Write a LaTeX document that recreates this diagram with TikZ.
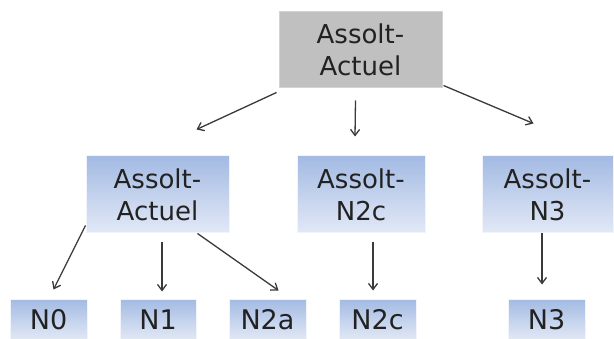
\documentclass[tikz,border=0pt]{standalone}
\usepackage{fontspec}
\setmainfont{DejaVu Sans}
\usetikzlibrary{calc,arrows.meta}
\definecolor{bluetop}{HTML}{A3BAE3}
\definecolor{bluebot}{HTML}{E2E9F6}
\definecolor{graybox}{HTML}{C0C0C0}
\definecolor{txt}{HTML}{222222}
\definecolor{arr}{HTML}{3A3A3A}
\tikzset{
  grayboxst/.style={draw=graybox!70!white, line width=1pt, fill=graybox, minimum width=163pt, minimum height=76pt, inner sep=0pt, align=center, text=txt, font=\fontsize{26}{32}\selectfont},
  blueboxst/.style={draw=white!85!bluetop, line width=1pt, top color=bluetop, bottom color=bluebot, minimum height=77pt, inner sep=0pt, align=center, text=txt, font=\fontsize{26}{32}\selectfont},
  leafst/.style={draw=white!85!bluetop, line width=1pt, top color=bluetop, bottom color=bluebot, minimum width=77pt, minimum height=41pt, inner sep=0pt, text=txt, font=\fontsize{27}{30}\selectfont},
  conn/.style={draw=arr, line width=1.3pt, -{Straight Barb[length=6pt,width=9pt]}}
}
\begin{document}
\begin{tikzpicture}[x=1pt,y=1pt]
\useasboundingbox[fill=white] (0,0) rectangle (614,338);
\node[grayboxst] (top) at (360.5,288) {Assolt-\\Actuel};
\node[blueboxst, minimum width=143pt] (L) at (157.5,143.5) {Assolt-\\Actuel};
\node[blueboxst, minimum width=128pt] (M) at (361,143.5) {Assolt-\\N2c};
\node[blueboxst, minimum width=131pt] (R) at (547.5,143.5) {Assolt-\\N3};
\node[leafst] (n0) at (48.5,18.5) {N0};
\node[leafst, minimum width=76pt] (n1) at (158,18.5) {N1};
\node[leafst] (n2a) at (267.5,18.5) {N2a};
\node[leafst] (n2c) at (377.5,18.5) {N2c};
\node[leafst] (n3) at (546.5,18.5) {N3};
\draw[conn] ($(top.south west)+(-2,-4)$) -- ($(L.north east)+(-33,26)$);
\draw[conn] ($(top.south)+(-5,-12)$) -- ($(M.north)+(-6,19)$);
\draw[conn] ($(top.south east)+(1,3)$) -- ($(R.north)+(-14,32)$);
\draw[conn] ($(L.south west)+(0,8)$) -- ($(n0.north)+(5,9)$);
\draw[conn] ($(L.south)+(4.5,-9)$) -- ($(n1.north)+(4,7)$);
\draw[conn] ($(L.south east)+(-32,0)$) -- ($(n2a.north)+(11,8)$);
\draw[conn] ($(M.south)+(12,-9)$) -- ($(n2c.north)+(-4.5,8)$);
\draw[conn] ($(R.south)+(-5.5,0)$) -- ($(n3.north)+(-4.5,14)$);
\end{tikzpicture}
\end{document}
